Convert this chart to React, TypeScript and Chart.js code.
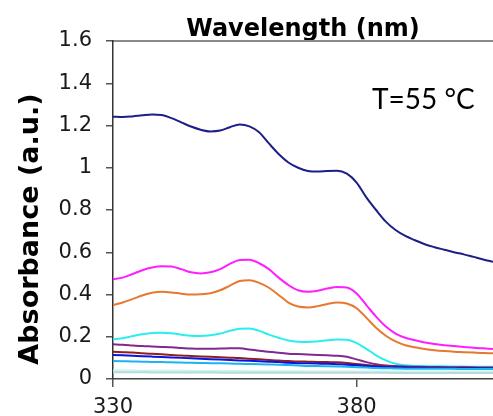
import React, { useEffect, useRef } from 'react';
import { Chart, registerables } from 'chart.js';

Chart.register(...registerables);

// Wavelength grid (nm)
const wavelengths = [
  330, 332, 334, 336, 338, 340, 342, 344, 346, 348,
  350, 352, 354, 356, 358, 360, 362, 364, 366, 368,
  370, 372, 374, 376, 378, 380, 382, 384, 386, 388,
  390, 392, 394, 396, 398, 400, 402, 404, 406, 408,
];

// Absorbance spectra (a.u.)
const navySeries = [
  1.242, 1.240, 1.243, 1.248, 1.252, 1.250, 1.235, 1.215, 1.195, 1.180,
  1.172, 1.176, 1.192, 1.205, 1.196, 1.168, 1.115, 1.065, 1.025, 1.000,
  0.985, 0.982, 0.985, 0.986, 0.972, 0.930, 0.860, 0.800, 0.745, 0.705,
  0.677, 0.657, 0.638, 0.624, 0.612, 0.600, 0.590, 0.578, 0.566, 0.555,
];
const magentaSeries = [
  0.472, 0.480, 0.497, 0.515, 0.528, 0.534, 0.532, 0.520, 0.505, 0.500,
  0.505, 0.520, 0.545, 0.563, 0.565, 0.548, 0.520, 0.480, 0.445, 0.420,
  0.413, 0.418, 0.428, 0.436, 0.433, 0.405, 0.350, 0.295, 0.248, 0.215,
  0.195, 0.183, 0.173, 0.166, 0.160, 0.156, 0.152, 0.148, 0.145, 0.142,
];
const orangeSeries = [
  0.350, 0.362, 0.378, 0.395, 0.408, 0.413, 0.410, 0.404, 0.400, 0.401,
  0.406, 0.420, 0.442, 0.464, 0.468, 0.455, 0.432, 0.398, 0.362, 0.343,
  0.339, 0.345, 0.355, 0.362, 0.357, 0.335, 0.290, 0.243, 0.205, 0.178,
  0.160, 0.150, 0.142, 0.136, 0.132, 0.129, 0.127, 0.125, 0.123, 0.122,
];
const cyanSeries = [
  0.188, 0.193, 0.203, 0.212, 0.218, 0.219, 0.216, 0.210, 0.205, 0.204,
  0.207, 0.215, 0.228, 0.238, 0.239, 0.228, 0.210, 0.195, 0.182, 0.176,
  0.175, 0.178, 0.183, 0.187, 0.186, 0.170, 0.143, 0.112, 0.088, 0.072,
  0.065, 0.062, 0.061, 0.060, 0.060, 0.059, 0.059, 0.058, 0.058, 0.058,
];
const purpleSeries = [
  0.164, 0.162, 0.159, 0.156, 0.154, 0.152, 0.150, 0.147, 0.144, 0.143,
  0.143, 0.144, 0.146, 0.145, 0.140, 0.134, 0.129, 0.124, 0.120, 0.118,
  0.116, 0.114, 0.112, 0.110, 0.105, 0.093, 0.080, 0.070, 0.064, 0.061,
  0.059, 0.058, 0.057, 0.057, 0.056, 0.056, 0.056, 0.055, 0.055, 0.055,
];
const maroonSeries = [
  0.129, 0.127, 0.125, 0.122, 0.119, 0.117, 0.114, 0.111, 0.109, 0.107,
  0.105, 0.103, 0.101, 0.099, 0.096, 0.093, 0.090, 0.087, 0.085, 0.083,
  0.082, 0.081, 0.080, 0.079, 0.076, 0.071, 0.066, 0.062, 0.059, 0.057,
  0.056, 0.055, 0.055, 0.054, 0.054, 0.053, 0.053, 0.053, 0.052, 0.052,
];
const blueSeries = [
  0.114, 0.112, 0.110, 0.108, 0.106, 0.104, 0.102, 0.100, 0.098, 0.096,
  0.094, 0.092, 0.090, 0.088, 0.086, 0.084, 0.082, 0.080, 0.077, 0.075,
  0.074, 0.073, 0.072, 0.070, 0.068, 0.065, 0.061, 0.058, 0.056, 0.055,
  0.054, 0.053, 0.053, 0.052, 0.052, 0.051, 0.051, 0.051, 0.050, 0.050,
];
const skySeries = [
  0.085, 0.084, 0.083, 0.082, 0.081, 0.080, 0.079, 0.078, 0.077, 0.076,
  0.075, 0.074, 0.073, 0.072, 0.071, 0.070, 0.069, 0.068, 0.066, 0.064,
  0.062, 0.061, 0.060, 0.059, 0.058, 0.056, 0.054, 0.052, 0.051, 0.050,
  0.049, 0.049, 0.048, 0.048, 0.048, 0.048, 0.047, 0.047, 0.047, 0.047,
];
const paleSeries = [
  0.040, 0.040, 0.040, 0.039, 0.039, 0.039, 0.039, 0.039, 0.038, 0.038,
  0.038, 0.038, 0.038, 0.038, 0.037, 0.037, 0.037, 0.037, 0.037, 0.037,
  0.036, 0.036, 0.036, 0.036, 0.036, 0.036, 0.036, 0.036, 0.036, 0.035,
  0.035, 0.035, 0.035, 0.035, 0.035, 0.035, 0.035, 0.035, 0.035, 0.035,
];
const greySeries = [
  0.032, 0.032, 0.032, 0.032, 0.031, 0.031, 0.031, 0.031, 0.031, 0.031,
  0.031, 0.030, 0.030, 0.030, 0.030, 0.030, 0.030, 0.030, 0.030, 0.030,
  0.029, 0.029, 0.029, 0.029, 0.029, 0.029, 0.029, 0.029, 0.029, 0.028,
  0.028, 0.028, 0.028, 0.028, 0.028, 0.028, 0.028, 0.028, 0.028, 0.028,
];

const xTickValues = [330, 380];
const xTitle = 'Wavelength (nm)';
const yTitle = 'Absorbance (a.u.)';
const tempLabel = 'T=55 °C';

const spectra = [
  { name: 'grey', values: greySeries, color: '#b9d9da' },
  { name: 'pale', values: paleSeries, color: '#c6f3f3' },
  { name: 'sky', values: skySeries, color: '#1cb4ee' },
  { name: 'blue', values: blueSeries, color: '#0a14e0' },
  { name: 'maroon', values: maroonSeries, color: '#8e1f1f' },
  { name: 'purple', values: purpleSeries, color: '#7f2a8f' },
  { name: 'cyan', values: cyanSeries, color: '#2aeeee' },
  { name: 'orange', values: orangeSeries, color: '#e6792f' },
  { name: 'magenta', values: magentaSeries, color: '#ff1eff' },
  { name: 'navy', values: navySeries, color: '#1b1f86' },
];

// Draws the rotated y-axis caption and the temperature note
const captionPlugin = {
  id: 'captions',
  afterDraw(chart: any) {
    const { ctx } = chart;
    ctx.save();
    ctx.fillStyle = '#000';
    ctx.translate(31, 229);
    ctx.rotate(-Math.PI / 2);
    ctx.textAlign = 'center';
    ctx.textBaseline = 'middle';
    ctx.font = 'bold 27px "DejaVu Sans"';
    ctx.fillText(yTitle, 0, 0);
    ctx.restore();

    ctx.save();
    ctx.fillStyle = '#000';
    ctx.textAlign = 'left';
    ctx.textBaseline = 'alphabetic';
    ctx.font = '28px Lato';
    ctx.fillText(tempLabel, 372, 109);
    ctx.restore();
  },
};

export default function App() {
  const canvasRef = useRef<HTMLCanvasElement>(null);

  useEffect(() => {
    const tickFont = { family: 'DejaVu Sans', size: 21 };
    const chart = new Chart(canvasRef.current!, {
      type: 'line',
      data: {
        datasets: spectra.map((s) => ({
          label: s.name,
          data: wavelengths.map((w, i) => ({ x: w, y: s.values[i] })),
          borderColor: s.color,
          backgroundColor: s.color,
          borderWidth: 2,
          pointRadius: 0,
          cubicInterpolationMode: 'monotone' as const,
          xAxisID: 'x',
          yAxisID: 'y',
        })),
      },
      options: {
        animation: false,
        responsive: true,
        maintainAspectRatio: false,
        layout: { padding: 0 },
        plugins: {
          legend: { display: false },
          tooltip: { enabled: false },
        },
        scales: {
          x: {
            type: 'linear',
            position: 'bottom',
            min: 330,
            max: 408,
            afterBuildTicks: (scale: any) => {
              scale.ticks = xTickValues.map((v) => ({ value: v }));
            },
            afterFit: (scale: any) => {
              scale.height = 37;
            },
            ticks: {
              font: tickFont,
              color: '#1a1a1a',
              padding: 8,
              autoSkip: false,
              maxRotation: 0,
            },
            grid: { drawOnChartArea: false, tickLength: 8, color: '#555', lineWidth: 1.5 },
            border: { color: '#444', width: 1.5 },
          },
          xTop: {
            type: 'linear',
            position: 'top',
            min: 330,
            max: 408,
            afterFit: (scale: any) => {
              scale.height = 41;
            },
            ticks: { display: false },
            grid: { display: false },
            border: { color: '#8a8a8a', width: 2 },
            title: {
              display: true,
              text: xTitle,
              color: '#000',
              font: { family: 'DejaVu Sans', size: 24, weight: 'bold' },
              padding: { top: 15, bottom: 0 },
            },
          },
          y: {
            type: 'linear',
            position: 'left',
            min: 0,
            max: 1.6,
            afterFit: (scale: any) => {
              scale.width = 113;
            },
            ticks: {
              stepSize: 0.2,
              font: tickFont,
              color: '#1a1a1a',
              padding: 14,
              callback: (value: any) => String(Number(Number(value).toFixed(1))),
            },
            grid: { drawOnChartArea: false, tickLength: 7, color: '#555', lineWidth: 1.5 },
            border: { color: '#333', width: 1.5 },
          },
        },
      },
      plugins: [captionPlugin],
    });
    return () => chart.destroy();
  }, []);

  return (
    <div style={{ position: 'fixed', left: 0, top: 0, width: 493, height: 416, background: '#fff' }}>
      <canvas ref={canvasRef} />
    </div>
  );
}
